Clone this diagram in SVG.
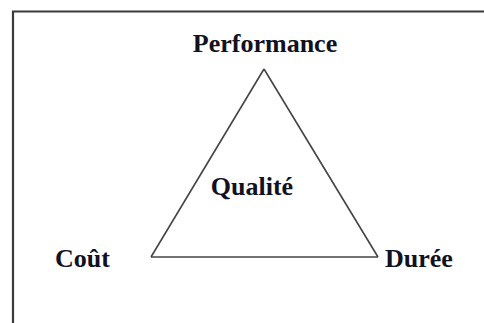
<svg xmlns="http://www.w3.org/2000/svg" width="484" height="323" viewBox="0 0 484 323">
<style>
.lbl{font-family:"Liberation Serif","Times New Roman",serif;font-weight:bold;font-size:26px;fill:#111122}
.edge{stroke:#444;stroke-width:1.6;fill:none}
</style>
<rect x="0" y="0" width="484" height="323" fill="#fff"/>
<path d="M13,330 V11.5 H490" fill="none" stroke="#3a3a3a" stroke-width="2.2"/>
<g id="connectors">
<line class="edge" x1="264" y1="69" x2="151" y2="257"/>
<line class="edge" x1="264" y1="69" x2="378" y2="257"/>
<line class="edge" x1="151" y1="257" x2="378" y2="257"/>
</g>
<g id="performance"><text class="lbl" x="265" y="52" text-anchor="middle">Performance</text></g>
<g id="qualite"><text class="lbl" x="252" y="195" text-anchor="middle">Qualité</text></g>
<g id="cout"><text class="lbl" x="55" y="267">Coût</text></g>
<g id="duree"><text class="lbl" x="385" y="267">Durée</text></g>
</svg>
